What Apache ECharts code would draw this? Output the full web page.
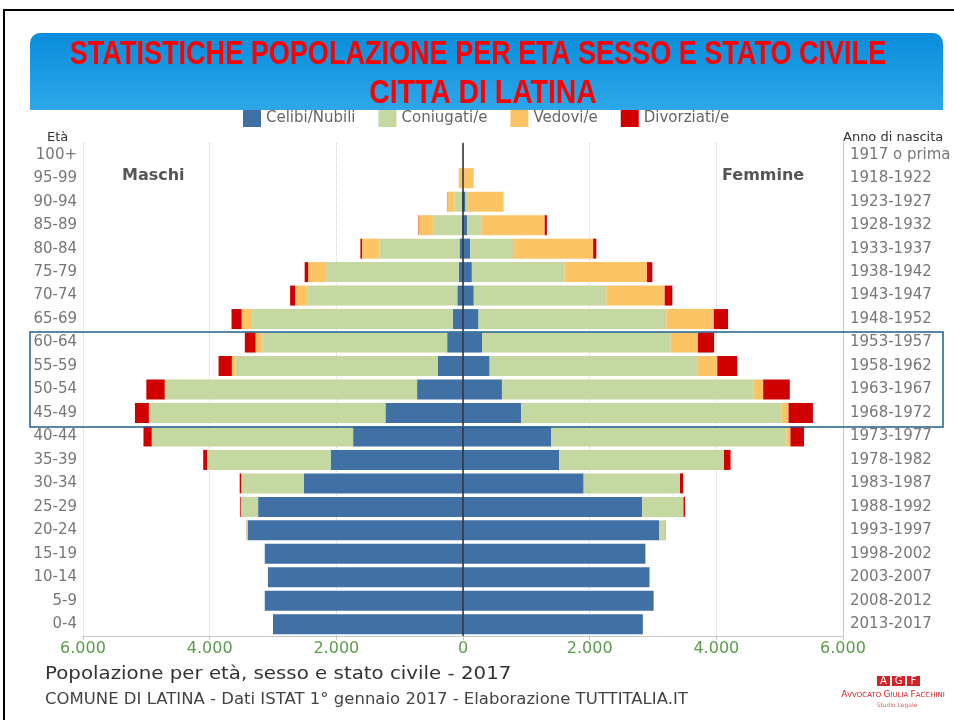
<!doctype html>
<html lang="it">
<head>
<meta charset="utf-8">
<title>Popolazione per età, sesso e stato civile - Latina 2017</title>
<style>
  html, body { margin: 0; padding: 0; background: #fff; }
  #mainChart { width: 954px; height: 720px; }
</style>
</head>
<body>
<div id="mainChart"></div>
<script src="https://cdn.jsdelivr.net/npm/echarts@6/dist/echarts.min.js"></script>
<script>
// classi di età (dall'alto verso il basso) e anni di nascita
var ages = ['100+', '95-99', '90-94', '85-89', '80-84', '75-79', '70-74', '65-69', '60-64', '55-59',
  '50-54', '45-49', '40-44', '35-39', '30-34', '25-29', '20-24', '15-19', '10-14', '5-9', '0-4'];
var years = ['1917 o prima', '1918-1922', '1923-1927', '1928-1932', '1933-1937', '1938-1942', '1943-1947',
  '1948-1952', '1953-1957', '1958-1962', '1963-1967', '1968-1972', '1973-1977', '1978-1982', '1983-1987',
  '1988-1992', '1993-1997', '1998-2002', '2003-2007', '2008-2012', '2013-2017'];

var statusNames = ['Celibi/Nubili', 'Coniugati/e', 'Vedovi/e', 'Divorziati/e'];
var statusColors = ['#4170a5', '#c6d8a2', '#fcc465', '#d00000'];

// Maschi
var maleCelibi = [1, 3, 15, 20, 55, 65, 90, 160, 250, 400, 725, 1225, 1735, 2090, 2515, 3235, 3400, 3130, 3080, 3130, 3000];
var maleConiugati = [1, 7, 120, 450, 1265, 2095, 2375, 3185, 2920, 3195, 3965, 3725, 3175, 1950, 985, 275, 20, 0, 0, 0, 0];
var maleVedovi = [3, 58, 115, 235, 275, 285, 185, 150, 105, 55, 20, 10, 5, 2, 1, 0, 0, 0, 0, 0, 0];
var maleDivorziati = [0, 0, 3, 5, 25, 55, 80, 160, 170, 210, 290, 220, 130, 60, 25, 12, 2, 0, 0, 0, 0];

// Femmine
var femNubili = [1, 5, 40, 65, 115, 140, 170, 245, 300, 420, 615, 920, 1395, 1520, 1905, 2830, 3095, 2880, 2945, 3010, 2840];
var femConiugate = [0, 5, 40, 225, 675, 1465, 2095, 2965, 2980, 3290, 3975, 4105, 3710, 2590, 1515, 650, 105, 0, 0, 0, 0];
var femVedove = [15, 160, 555, 1000, 1265, 1300, 920, 750, 430, 305, 150, 115, 65, 10, 5, 2, 0, 0, 0, 0, 0];
var femDivorziate = [0, 0, 2, 35, 50, 85, 120, 225, 255, 315, 420, 385, 215, 105, 50, 25, 3, 0, 0, 0, 0];

var xTicks = [-6000, 6000, 2000]; // min, max, interval

var myChart = echarts.init(document.getElementById('mainChart'));

function fmt(v) {
  v = Math.abs(v);
  return v >= 1000 ? Math.floor(v / 1000) + '.' + ('00' + (v % 1000)).slice(-3) : String(v);
}

var maleData = [maleCelibi, maleConiugati, maleVedovi, maleDivorziati];
var femData = [femNubili, femConiugate, femVedove, femDivorziate];

var series = [];
for (var i = 0; i < 4; i++) {
  series.push({
    name: statusNames[i],
    type: 'bar',
    stack: 'pop',
    barWidth: 20,
    itemStyle: { color: statusColors[i] },
    data: maleData[i].map(function (v) { return -v; })
  });
}
for (var j = 0; j < 4; j++) {
  series.push({
    name: statusNames[j],
    type: 'bar',
    stack: 'pop',
    barWidth: 20,
    itemStyle: { color: statusColors[j] },
    data: femData[j]
  });
}
// linea dello zero
series[0].markLine = {
  silent: true,
  symbol: 'none',
  label: { show: false },
  lineStyle: { color: '#333', width: 1.5, type: 'solid' },
  data: [{ xAxis: 0 }]
};

var font = 'DejaVu Sans';
var titleFont = 'bold 33px "Liberation Sans", sans-serif';

option = {
  animation: false,
  textStyle: { fontFamily: font },
  legend: {
    left: 238,
    top: 105,
    icon: 'rect',
    itemWidth: 18,
    itemHeight: 17,
    itemGap: 23,
    textStyle: { color: '#666', fontSize: 15, fontFamily: font },
    data: statusNames
  },
  grid: { left: 83, right: 111, top: 143, bottom: 84 },
  xAxis: {
    type: 'value',
    min: xTicks[0],
    max: xTicks[1],
    interval: xTicks[2],
    axisLine: { show: true, lineStyle: { color: '#c8c8c8' } },
    axisTick: { show: true, length: 4, lineStyle: { color: '#c8c8c8' } },
    axisLabel: { color: '#5c9b4c', fontSize: 16, margin: 5, fontFamily: font, formatter: fmt },
    splitLine: { show: true, lineStyle: { color: '#d0d0d0', type: 'dotted' } }
  },
  yAxis: [{
    type: 'category',
    inverse: true,
    data: ages,
    axisLine: { show: true, lineStyle: { color: '#c8c8c8' } },
    axisTick: { show: false },
    axisLabel: { color: '#777', fontSize: 15, margin: 6, fontFamily: font }
  }, {
    type: 'category',
    inverse: true,
    position: 'right',
    data: years,
    axisLine: { show: true, lineStyle: { color: '#c8c8c8' } },
    axisTick: { show: false },
    axisLabel: { color: '#777', fontSize: 15, margin: 7, fontFamily: font }
  }],
  series: series,
  graphic: [
    // cornice della slide
    { type: 'rect', z: 100, shape: { x: 4, y: 10, width: 980, height: 740 },
      style: { fill: 'none', stroke: '#000', lineWidth: 2 } },
    // banda del titolo
    { type: 'rect', z: 100, shape: { x: 30, y: 33, width: 913, height: 77, r: [10, 10, 0, 0] },
      style: { fill: new echarts.graphic.LinearGradient(0, 0, 0, 1, [
        { offset: 0, color: '#0a8ddb' }, { offset: 1, color: '#2da7e9' }]) } },
    { type: 'text', z: 101, x: 478, y: 55, scaleX: 0.82,
      style: { text: 'STATISTICHE POPOLAZIONE PER ETA SESSO E STATO CIVILE', fill: '#ff0000',
        font: titleFont, textAlign: 'center', textVerticalAlign: 'middle' } },
    { type: 'text', z: 101, x: 483, y: 94, scaleX: 0.86,
      style: { text: 'CITTA DI LATINA', fill: '#ff0000',
        font: titleFont, textAlign: 'center', textVerticalAlign: 'middle' } },
    // riquadro evidenziato 45-64
    { type: 'rect', z: 100, shape: { x: 30, y: 332, width: 913, height: 95 },
      style: { fill: 'none', stroke: '#1f5f8f', lineWidth: 1.5 } },
    // intestazioni
    { type: 'text', z: 100, x: 47, y: 138,
      style: { text: 'Età', fill: '#333', font: '13px "DejaVu Sans"', textVerticalAlign: 'middle' } },
    { type: 'text', z: 100, x: 843, y: 138,
      style: { text: 'Anno di nascita', fill: '#333', font: '13px "DejaVu Sans"', textVerticalAlign: 'middle' } },
    { type: 'text', z: 100, x: 122, y: 176,
      style: { text: 'Maschi', fill: '#555', font: 'bold 16px "DejaVu Sans"', textVerticalAlign: 'middle' } },
    { type: 'text', z: 100, x: 722, y: 176,
      style: { text: 'Femmine', fill: '#555', font: 'bold 16px "DejaVu Sans"', textVerticalAlign: 'middle' } },
    // titolo e fonte in basso
    { type: 'text', z: 100, x: 45, y: 674, scaleX: 1.1,
      style: { text: 'Popolazione per età, sesso e stato civile - 2017', fill: '#333',
        font: '18px "DejaVu Sans"', textVerticalAlign: 'middle' } },
    { type: 'text', z: 100, x: 45, y: 700, scaleX: 1.1,
      style: { text: 'COMUNE DI LATINA - Dati ISTAT 1° gennaio 2017 - Elaborazione TUTTITALIA.IT', fill: '#444',
        font: '15px "DejaVu Sans"', textVerticalAlign: 'middle' } },
    // logo AGF
    { type: 'rect', z: 100, shape: { x: 877, y: 676, width: 13, height: 10 }, style: { fill: '#d42027' } },
    { type: 'rect', z: 100, shape: { x: 892, y: 676, width: 13, height: 10 }, style: { fill: '#d42027' } },
    { type: 'rect', z: 100, shape: { x: 907, y: 676, width: 13, height: 10 }, style: { fill: '#d42027' } },
    { type: 'text', z: 101, x: 883.5, y: 681.5,
      style: { text: 'A', fill: '#fff', font: '10px "DejaVu Sans"', textAlign: 'center', textVerticalAlign: 'middle' } },
    { type: 'text', z: 101, x: 898.5, y: 681.5,
      style: { text: 'G', fill: '#fff', font: '10px "DejaVu Sans"', textAlign: 'center', textVerticalAlign: 'middle' } },
    { type: 'text', z: 101, x: 913.5, y: 681.5,
      style: { text: 'F', fill: '#fff', font: '10px "DejaVu Sans"', textAlign: 'center', textVerticalAlign: 'middle' } },
    { type: 'text', z: 100, x: 893, y: 695,
      style: { text: '{b|A}{s|VVOCATO }{b|G}{s|IULIA }{b|F}{s|ACCHINI}', textAlign: 'center', textVerticalAlign: 'middle',
        rich: {
          b: { fill: '#d42027', font: '9px "DejaVu Sans"' },
          s: { fill: '#d42027', font: '7px "DejaVu Sans"' }
        } } },
    { type: 'text', z: 100, x: 897, y: 705,
      style: { text: 'Studio Legale', fill: '#d4676b', font: '6px "DejaVu Sans"', textAlign: 'center', textVerticalAlign: 'middle' } }
  ]
};

myChart.setOption(option);
</script>
</body>
</html>
